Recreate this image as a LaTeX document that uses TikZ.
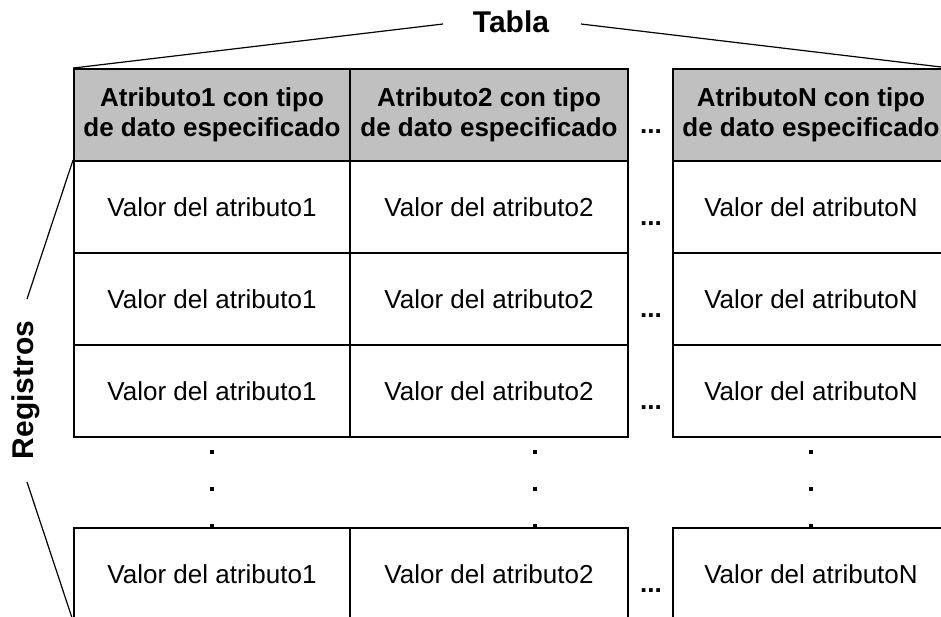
\documentclass[tikz,border=0pt]{standalone}
\usepackage{fontspec}
\setmainfont{Liberation Sans}
\begin{document}
\begin{tikzpicture}[x=1pt,y=-1pt,
  cellbase/.style={draw=black, line width=1.9pt, inner sep=0pt, minimum height=92pt, align=center, font=\fontsize{26}{30}\selectfont},
  headcell/.style={cellbase, fill=headgray, font=\fontsize{26}{30}\selectfont\bfseries},
  valcell/.style={cellbase, fill=white},
  wA/.style={minimum width=276pt},
  wB/.style={minimum width=278pt},
  ellip/.style={anchor=base, inner sep=0pt, font=\fontsize{26}{30}\selectfont\bfseries},
  vdot/.style={fill=black, draw=none, minimum size=4pt, inner sep=0pt},
  bigtitle/.style={inner sep=0pt, font=\fontsize{30}{34}\selectfont\bfseries},
  slant/.style={draw=black, line width=1.2pt}
]
\definecolor{headgray}{RGB}{192,192,192}
\useasboundingbox (0,0) rectangle (941,616);

% header
\node[headcell,wA] (h1) at (212,115) {Atributo1 con tipo\\de dato especificado};
\node[headcell,wB] (h2) at (489,115) {Atributo2 con tipo\\de dato especificado};
\node[headcell,wA] (hN) at (811,115) {AtributoN con tipo\\de dato especificado};

% rows
\node[valcell,wA] (r11) at (212,207) {Valor del atributo1};
\node[valcell,wB] (r12) at (489,207) {Valor del atributo2};
\node[valcell,wA] (r1N) at (811,207) {Valor del atributoN};

\node[valcell,wA] (r21) at (212,299) {Valor del atributo1};
\node[valcell,wB] (r22) at (489,299) {Valor del atributo2};
\node[valcell,wA] (r2N) at (811,299) {Valor del atributoN};

\node[valcell,wA] (r31) at (212,391) {Valor del atributo1};
\node[valcell,wB] (r32) at (489,391) {Valor del atributo2};
\node[valcell,wA] (r3N) at (811,391) {Valor del atributoN};

\node[valcell,wA] (r41) at (212,574) {Valor del atributo1};
\node[valcell,wB] (r42) at (489,574) {Valor del atributo2};
\node[valcell,wA] (r4N) at (811,574) {Valor del atributoN};

% horizontal ellipses
\node[ellip] (e0) at (651,133.5) {...};
\node[ellip] (e1) at (651,225.5) {...};
\node[ellip] (e2) at (651,317.5) {...};
\node[ellip] (e3) at (651,409.5) {...};
\node[ellip] (e4) at (651,592.5) {...};

% vertical dots
\node[vdot] (d11) at (212,452) {};
\node[vdot] (d12) at (212,489) {};
\node[vdot] (d13) at (212,526) {};
\node[vdot] (d21) at (535,452) {};
\node[vdot] (d22) at (535,489) {};
\node[vdot] (d23) at (535,526) {};
\node[vdot] (d31) at (811,452) {};
\node[vdot] (d32) at (811,489) {};
\node[vdot] (d33) at (811,526) {};

% titles
\node[bigtitle] (tabla) at (511,22) {Tabla};
\node[bigtitle, rotate=90] (reg) at (26,390) {Registros};

\coordinate (tL) at (443,24);
\coordinate (tR) at (581,24);
\coordinate (rT) at (27,299);
\coordinate (rB) at (27,482);

\draw[slant] (h1.north west) -- (tL);
\draw[slant] (tR) -- (hN.north east);
\draw[slant] (r11.north west) -- (rT);
\draw[slant] (rB) -- (r41.south west);
\end{tikzpicture}
\end{document}
